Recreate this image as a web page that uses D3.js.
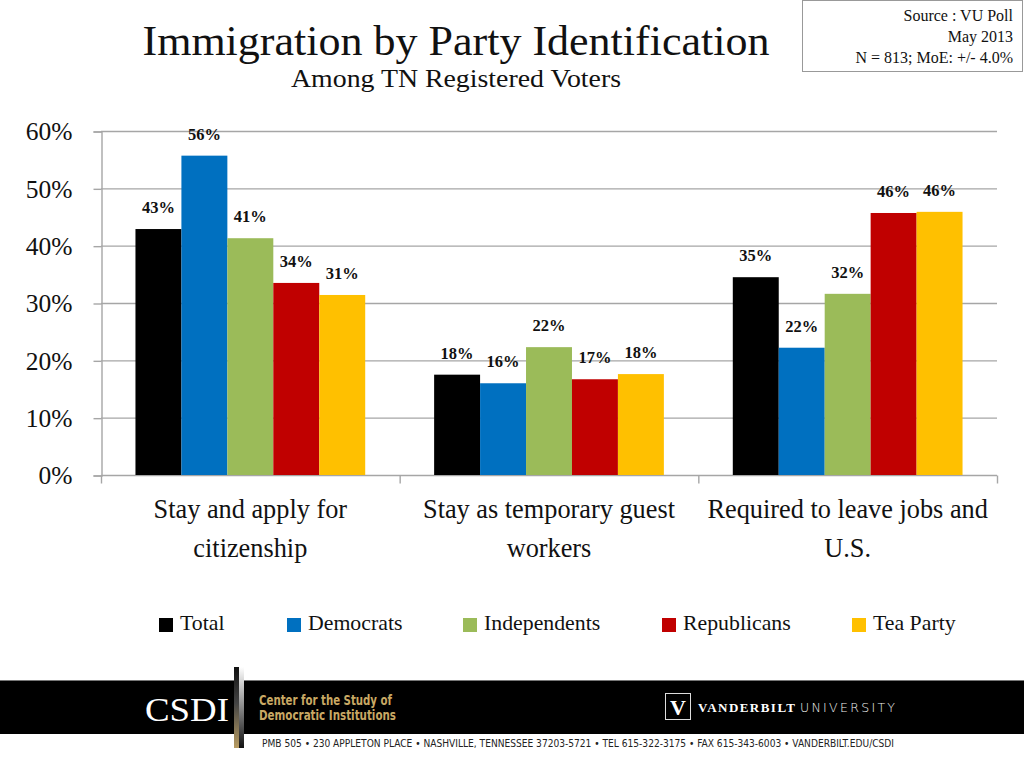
<!DOCTYPE html>
<html><head><meta charset="utf-8">
<script src="https://cdn.jsdelivr.net/npm/d3@7"></script>
<style>body{margin:0;background:#fff}svg{display:block}</style>
</head><body>
<script>
const categories = [["Stay and apply for","citizenship"],["Stay as temporary guest","workers"],["Required to leave jobs and","U.S."]];
const seriesNames = ["Total","Democrats","Independents","Republicans","Tea Party"];
const seriesColors = ["#000000","#0070C0","#9BBB59","#C00000","#FFC000"];
const totalVals = [42.9, 17.5, 34.5];
const demVals = [55.7, 16.0, 22.2];
const indVals = [41.3, 22.3, 31.6];
const repVals = [33.5, 16.7, 45.7];
const teaVals = [31.4, 17.6, 45.9];
const yTicks = [0,10,20,30,40,50,60];

const W=1024,H=768;
const svg=d3.select("body").append("svg").attr("width",W).attr("height",H);
const serif="'Liberation Serif','Times New Roman',serif";
const gridCol="#a6a6a6";

// title
svg.append("text").attr("x",456).attr("y",55).attr("text-anchor","middle")
 .attr("font-family",serif).attr("font-size",43).attr("fill","#111")
 .attr("textLength",627).attr("lengthAdjust","spacingAndGlyphs")
 .text("Immigration by Party Identification");
svg.append("text").attr("x",456).attr("y",87).attr("text-anchor","middle")
 .attr("font-family",serif).attr("font-size",26).attr("fill","#111")
 .attr("textLength",330).attr("lengthAdjust","spacingAndGlyphs")
 .text("Among TN Registered Voters");

// source box
svg.append("rect").attr("x",802.5).attr("y",0.5).attr("width",220).attr("height",71)
 .attr("fill","#fff").attr("stroke","#999");
[["Source : VU Poll",21],["May 2013",42],["N = 813; MoE: +/- 4.0%",63]].forEach(([t,y])=>{
 svg.append("text").attr("x",1013).attr("y",y).attr("text-anchor","end")
  .attr("font-family",serif).attr("font-size",16).attr("fill","#111").text(t);
});

// scales
const x0=d3.scaleBand().domain(d3.range(categories.length)).range([101,997]).padding(0);
const x1=d3.scaleBand().domain(seriesNames).range([0,x0.bandwidth()]).paddingInner(0).paddingOuter(0.75);
const y=d3.scaleLinear().domain([0,60]).range([475,131]);
const allVals=[totalVals,demVals,indVals,repVals,teaVals];

// gridlines
svg.append("g").selectAll("line").data(yTicks.slice(1)).join("line")
 .attr("x1",101).attr("x2",997).attr("y1",d=>y(d)+0.5).attr("y2",d=>y(d)+0.5)
 .attr("stroke",gridCol).attr("stroke-width",1.4);

// y axis
const yAxis=svg.append("g").attr("transform","translate(101.5,0.5)")
 .call(d3.axisLeft(y).tickValues(yTicks).tickSize(8).tickFormat(d=>d+"%").tickPadding(21));
yAxis.select(".domain").attr("stroke",gridCol).attr("stroke-width",1.4);
yAxis.selectAll(".tick line").attr("stroke",gridCol).attr("stroke-width",1.4);
yAxis.selectAll("text").attr("font-family",serif).attr("font-size",25.5).attr("fill","#111");

// x axis
const xAxisG=svg.append("g").attr("transform","translate(0,475.5)");
xAxisG.append("line").attr("x1",101).attr("x2",997).attr("stroke",gridCol).attr("stroke-width",1.4);
const bounds=d3.range(categories.length).map(i=>x0(i)).concat([x0.range()[1]]);
xAxisG.selectAll("line.t").data(bounds).join("line").attr("class","t")
 .attr("x1",d=>d+0.5).attr("x2",d=>d+0.5).attr("y1",0).attr("y2",8)
 .attr("stroke",gridCol).attr("stroke-width",1.4);

// bars
const groups=svg.append("g").selectAll("g").data(categories).join("g")
 .attr("transform",(d,i)=>`translate(${x0(i)},0)`);
groups.each(function(c,i){
 const g=d3.select(this);
 seriesNames.forEach((s,j)=>{
  const v=allVals[j][i];
  g.append("rect").attr("x",x1(s)).attr("width",x1.bandwidth()).attr("y",y(v)).attr("height",y(0)-y(v))
   .attr("fill",seriesColors[j]);
  g.append("text").attr("x",x1(s)+x1.bandwidth()/2).attr("y",y(v)-16)
   .attr("text-anchor","middle").attr("font-family",serif).attr("font-weight","bold")
   .attr("font-size",16.5).attr("fill","#111").text(Math.round(v)+"%");
 });
 g.selectAll("text.cat").data(c).join("text").attr("class","cat")
  .attr("x",x0.bandwidth()/2).attr("y",(d,k)=>518+k*39).attr("text-anchor","middle")
  .attr("font-family",serif).attr("font-size",26.3).attr("fill","#111").text(d=>d);
});

// legend
const legX=[159,287,463,662,852];
const leg=svg.append("g").selectAll("g").data(seriesNames).join("g")
 .attr("transform",(d,i)=>`translate(${legX[i]},0)`);
leg.append("rect").attr("x",0).attr("y",618).attr("width",14).attr("height",14).attr("fill",(d,i)=>seriesColors[i]);
leg.append("text").attr("x",21).attr("y",630).attr("font-family",serif).attr("font-size",21.8).attr("fill","#111").text(d=>d);

// footer
svg.append("rect").attr("x",0).attr("y",680).attr("width",W).attr("height",1.5).attr("fill","#777");
svg.append("rect").attr("x",0).attr("y",681).attr("width",W).attr("height",53).attr("fill","#000");
const defs=svg.append("defs");
const g1=defs.append("linearGradient").attr("id","gold").attr("x1",0).attr("y1",0).attr("x2",0).attr("y2",1);
g1.append("stop").attr("offset","0").attr("stop-color","#111");
g1.append("stop").attr("offset","0.45").attr("stop-color","#444");
g1.append("stop").attr("offset","1").attr("stop-color","#b89c62");
const g2=defs.append("linearGradient").attr("id","silver").attr("x1",0).attr("y1",0).attr("x2",0).attr("y2",1);
g2.append("stop").attr("offset","0").attr("stop-color","#fff");
g2.append("stop").attr("offset","0.5").attr("stop-color","#888");
g2.append("stop").attr("offset","1").attr("stop-color","#111");
svg.append("rect").attr("x",234).attr("y",667).attr("width",5).attr("height",81).attr("fill","url(#gold)");
svg.append("rect").attr("x",239).attr("y",667).attr("width",5).attr("height",81).attr("fill","url(#silver)");
svg.append("text").attr("x",145).attr("y",721).attr("font-family",serif).attr("font-size",34)
 .attr("fill","#fff").attr("textLength",84).attr("lengthAdjust","spacingAndGlyphs").text("CSDI");
const cond="'Liberation Sans Narrow','DejaVu Sans Condensed','Roboto Condensed',sans-serif";
[["Center for the Study of",705],["Democratic Institutions",720]].forEach(([t,yy],k)=>{
 svg.append("text").attr("x",259).attr("y",yy).attr("font-family",cond).attr("font-weight","bold")
  .attr("font-size",14).attr("fill","#c9a964").attr("textLength",k?137:133).attr("lengthAdjust","spacingAndGlyphs").text(t);
});
svg.append("rect").attr("x",665.5).attr("y",693.5).attr("width",25).attr("height",26).attr("fill","#000").attr("stroke","#ddd");
svg.append("text").attr("x",678).attr("y",715).attr("text-anchor","middle").attr("font-family",serif)
 .attr("font-weight","bold").attr("font-size",22).attr("fill","#fff").text("V");
svg.append("text").attr("x",698).attr("y",712).attr("font-family",serif).attr("font-weight","bold").attr("font-size",13)
 .attr("fill","#fff").attr("textLength",97).attr("lengthAdjust","spacing").text("VANDERBILT");
svg.append("text").attr("x",800).attr("y",712).attr("font-family","'DejaVu Sans',sans-serif").attr("font-weight","300").attr("font-size",12.5)
 .attr("fill","#eee").attr("textLength",95).attr("lengthAdjust","spacing").text("UNIVERSITY");
svg.append("text").attr("x",262).attr("y",747).attr("font-family",cond).attr("font-size",10.5)
 .attr("fill","#222").attr("textLength",632).attr("lengthAdjust","spacingAndGlyphs")
 .text("PMB 505 • 230 APPLETON PLACE • NASHVILLE, TENNESSEE 37203-5721 • TEL 615-322-3175 • FAX 615-343-6003 • VANDERBILT.EDU/CSDI");
</script>
</body></html>
